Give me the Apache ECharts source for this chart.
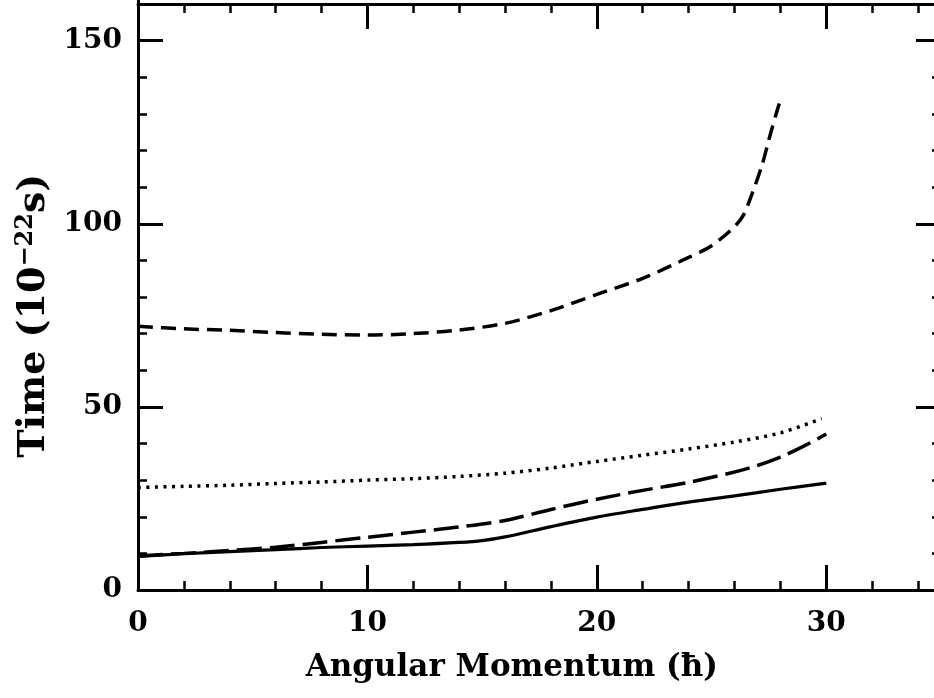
<!DOCTYPE html>
<html>
<head>
<meta charset="utf-8">
<script src="https://cdn.jsdelivr.net/npm/echarts@6/dist/echarts.min.js"></script>
<style>
  html, body { margin: 0; padding: 0; background: #fff; }
  #main { width: 934px; height: 698px; }
</style>
</head>
<body>
<div id="main"></div>
<script>
// values: [angular momentum, time]
const shortDash = [[0, 72], [2, 71.3], [4, 70.9], [6, 70.3], [8, 69.8], [10, 69.6], [12, 70.0], [14, 71.0],
    [16, 72.8], [18, 76.3], [20, 80.7], [22, 85.1], [24, 90.8], [25, 94.0], [26, 99.2], [26.4, 102.5],
    [26.8, 108.8], [27.2, 116], [27.5, 123], [27.8, 129.7], [28.05, 134.8]]
const dotted = [[0, 28], [2, 28.3], [4, 28.6], [6, 29.1], [8, 29.5], [10, 30.0], [12, 30.4], [14, 31.0],
    [16, 31.9], [18, 33.3], [20, 35.1], [22, 36.8], [24, 38.5], [26, 40.4], [28, 42.9], [29.8, 46.8]]
const longDash = [[0, 9.3], [2, 10.0], [4, 10.8], [6, 11.7], [8, 13.0], [10, 14.4], [12, 15.8], [14, 17.2],
    [16, 19.0], [18, 22.0], [20, 24.8], [22, 27.2], [24, 29.4], [26, 32.2], [27, 34.0], [28, 36.3],
    [29, 39.2], [30, 42.6]]
const solid = [[0, 9.2], [2, 9.9], [4, 10.5], [6, 11.0], [8, 11.6], [10, 12.0], [12, 12.4], [14, 13.0],
    [15, 13.5], [16, 14.5], [18, 17.3], [20, 19.9], [22, 22.0], [24, 24.0], [26, 25.7], [28, 27.5], [30, 29.2]]

const xTicks = [0, 10, 20, 30]
const yTicks = [0, 50, 100, 150]

const font = 'DejaVu Serif'
const black = '#000'

// frame: x 0..35 spans px 138..941, y 0..160 spans px 590..4
// axes run to 40 / 200 so every minor tick step stays even; the far sides are pulled back with offset
const pxX = (941 - 138) / 35
const pxY = (590 - 4) / 160

let myChart = echarts.init(document.getElementById('main'))

const tickLine = { color: black, width: 3 }
const minorLine = { color: black, width: 2.5 }

function axisOf(pos, max, interval, ticks, offset) {
    const labelled = pos === 'bottom' || pos === 'left'
    return {
        type: 'value', position: pos, offset: offset, min: 0, max: max, interval: interval,
        axisLine: { show: true, onZero: false, lineStyle: tickLine },
        axisTick: { inside: true, length: 25, customValues: ticks, lineStyle: tickLine },
        minorTick: { show: true, splitNumber: 5, length: 9, lineStyle: minorLine },
        axisLabel: labelled
            ? { customValues: ticks, margin: pos === 'left' ? 16 : 20, color: black,
                fontFamily: font, fontWeight: 'bold', fontSize: 28 }
            : { show: false },
        splitLine: { show: false }
    }
}

let xMain = axisOf('bottom', 40, 10, xTicks, 0)
xMain.name = 'Angular Momentum (ħ)'
xMain.nameLocation = 'middle'
xMain.nameGap = 62
xMain.nameTextStyle = { color: black, fontFamily: font, fontWeight: 'bold', fontSize: 31, padding: [0, 170, 0, 0] }

let yMain = axisOf('left', 200, 50, yTicks, 0)
yMain.name = 'Time (10{sup|−22}s)'
yMain.nameLocation = 'middle'
yMain.nameGap = 76
yMain.nameRotate = 90
yMain.nameTextStyle = {
    color: black, fontFamily: font, fontWeight: 'bold', fontSize: 38, padding: [0, 184, 0, 0],
    rich: { sup: { fontFamily: font, fontWeight: 'bold', fontSize: 24, color: black, verticalAlign: 'top', padding: [0, 0, 16, 0] } }
}

function line(data, width, dash) {
    return {
        type: 'line', data: data, xAxisIndex: 0, yAxisIndex: 0,
        showSymbol: false, symbol: 'none', smooth: 0.3,
        lineStyle: { color: black, width: width, type: dash, cap: 'butt' }
    }
}

let options = {
    animation: false,
    backgroundColor: '#fff',
    grid: { left: 138, bottom: 108, width: 40 * pxX, height: 200 * pxY, containLabel: false, outerBoundsMode: 'none' },
    xAxis: [xMain, axisOf('top', 40, 10, xTicks, -40 * pxY)],
    yAxis: [yMain, axisOf('right', 200, 50, yTicks, -5 * pxX)],
    series: [
        line(shortDash, 3.5, [15, 8]),
        line(dotted, 3.5, [3, 5.5]),
        line(longDash, 3.5, [25, 8]),
        line(solid, 3.2, 'solid')
    ]
}

myChart.setOption(options)
</script>
</body>
</html>
